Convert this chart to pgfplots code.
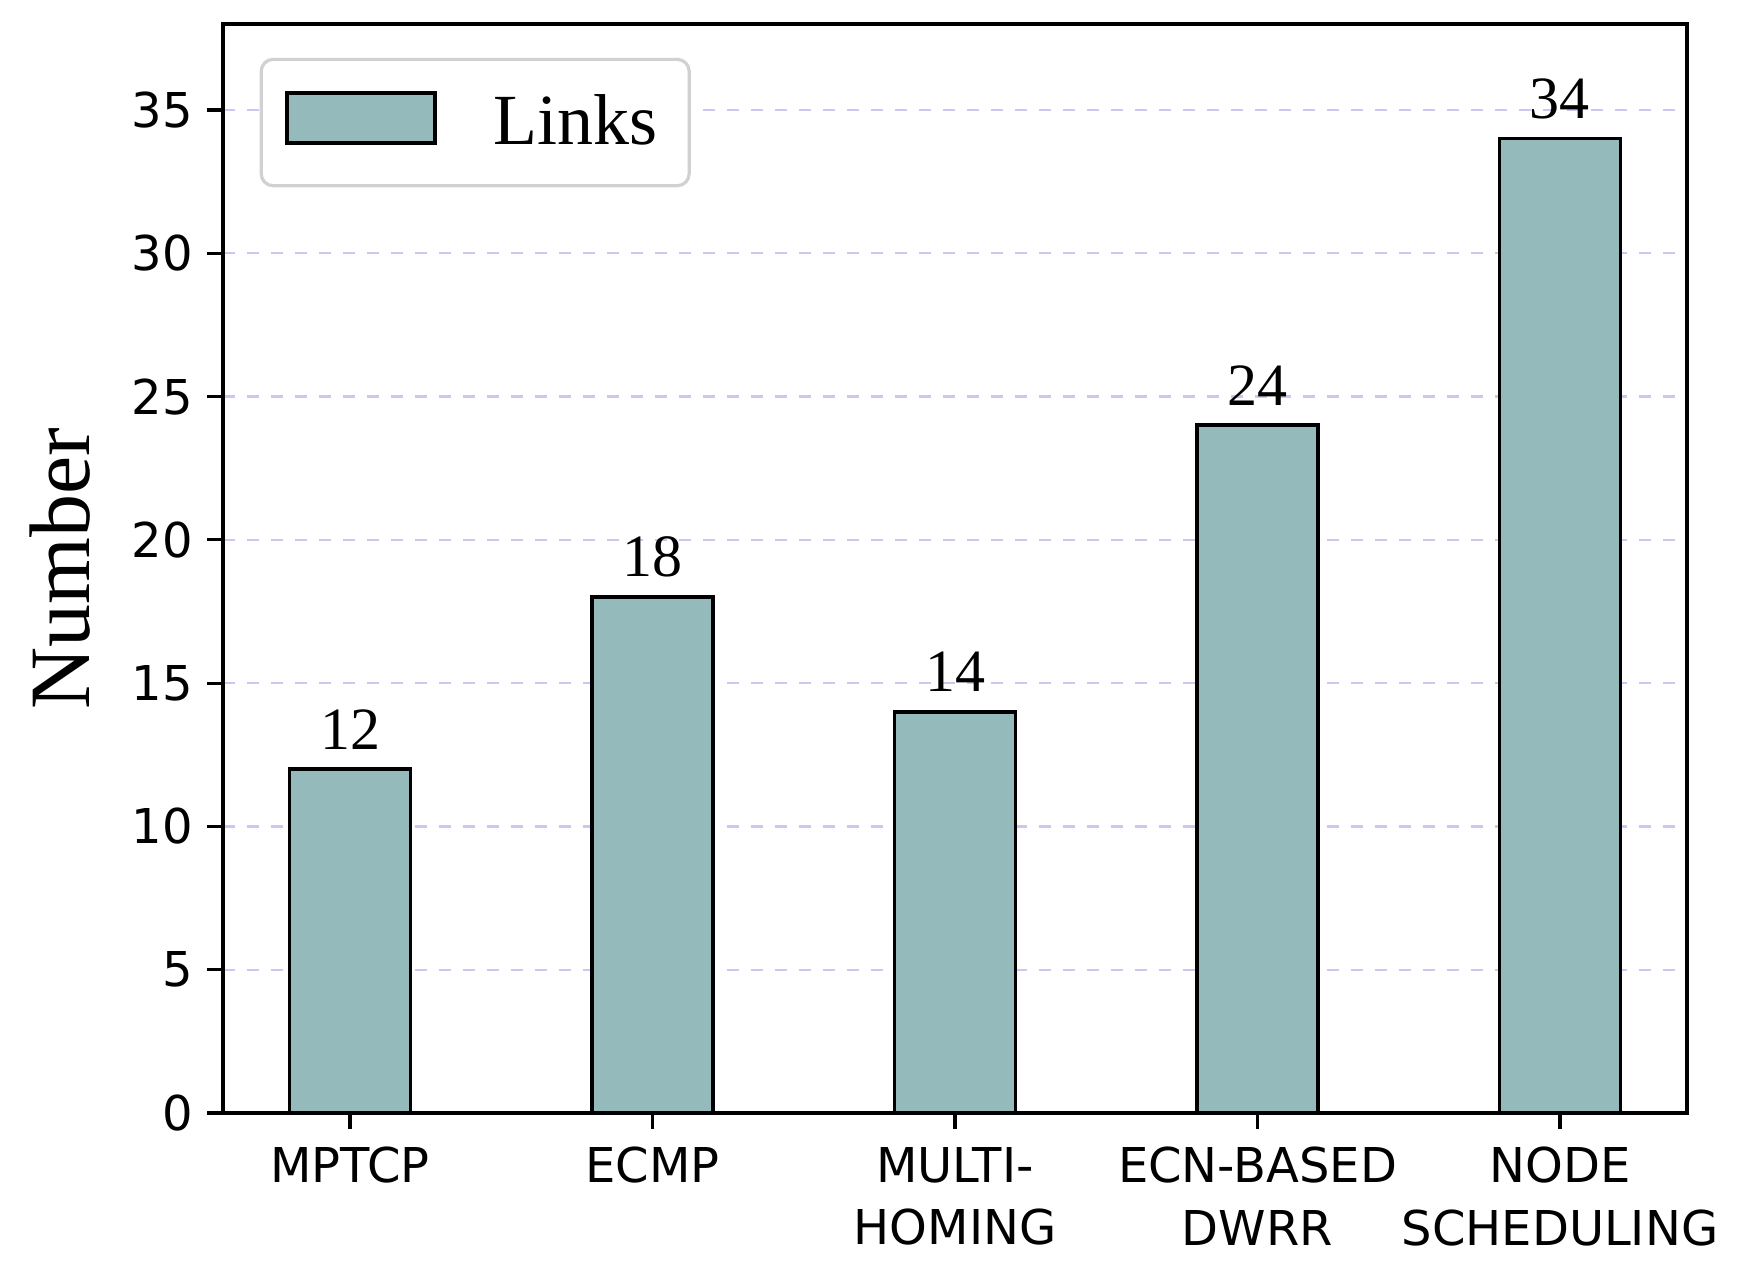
\documentclass[border=0pt]{standalone}
\usepackage{pgfplots}
\pgfplotsset{compat=1.18}
\usepackage{fontspec}
\setmainfont{Liberation Serif}
\newfontfamily\tickfont{DejaVu Sans}
\definecolor{barc}{RGB}{148,186,188}
\definecolor{gridc}{RGB}{200,200,242}
\begin{document}
\begin{tikzpicture}
\useasboundingbox (-55.75pt,-38pt) rectangle (380.5pt,278.25pt);
\begin{axis}[
  at={(0,0)}, anchor=south west,
  scale only axis, width=366pt, height=272.25pt,
  xmin=-0.42, xmax=4.42, ymin=0, ymax=38,
  xtick={0,1,2,3,4},
  xticklabels={MPTCP, ECMP, {MULTI-\\HOMING}, {ECN-BASED\\DWRR}, {NODE\\SCHEDULING}},
  ytick={0,5,10,15,20,25,30,35},
  xtick pos=left, ytick pos=left,
  tick align=outside, major tick length=4pt,
  tick style={black, line width=0.8pt},
  axis line style={black, line width=0.9pt},
  /pgf/number format/assume math mode=true,
  ticklabel style={font=\tickfont\fontsize{12}{15.6}\selectfont},
  xticklabel style={align=center, anchor=north, yshift=-1pt},
  ymajorgrids, major grid style={dashed, color=gridc, line width=0.6pt},
  ylabel={Number},
  ylabel style={font=\fontsize{21.5}{24}\selectfont, at={(axis description cs:-0.111,0.5)}, anchor=center},
  ybar, bar width=0.4,
  nodes near coords,
  every node near coord/.append style={font=\fontsize{15}{17}\selectfont, inner sep=1pt, yshift=3.5pt, black},
  legend style={at={(0.025,0.969)}, anchor=north west, draw=black!18, line width=0.8pt, rounded corners=3pt,
    font=\fontsize{18}{21}\selectfont, inner xsep=6pt, inner ysep=6.8pt},
  legend image code/.code={\draw[sharp corners, fill=barc, draw=black, line width=1pt] (0pt,-5.2pt) rectangle (37pt,7.5pt);},
  legend cell align=left,
]
\addplot[fill=barc, draw=black, line width=0.9pt] coordinates {(0,12) (1,18) (2,14) (3,24) (4,34)};
\addlegendentry{\hspace{12pt}Links}
\end{axis}
\end{tikzpicture}
\end{document}
